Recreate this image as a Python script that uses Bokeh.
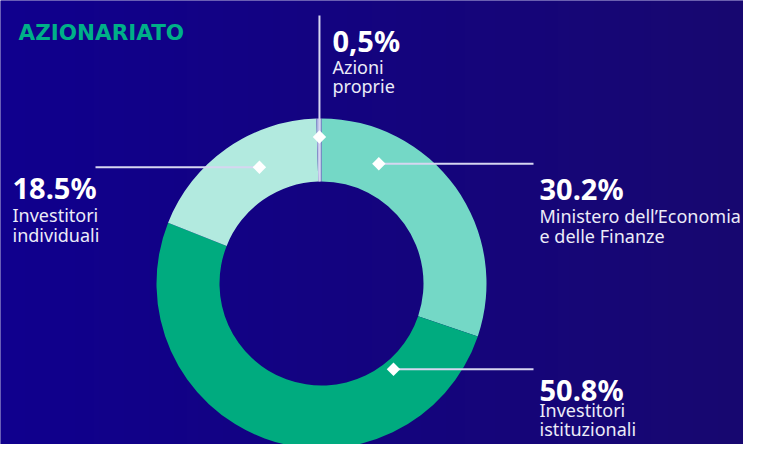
import numpy as np
from math import pi, sin, cos, radians
from bokeh.plotting import figure
from bokeh.models import Range1d, ColumnDataSource
from bokeh.embed import file_html
from bokeh.resources import INLINE
from bokeh.core.properties import value

# ---------------- data ----------------
title_text = "AZIONARIATO"
categories = ["Ministero dell’Economia e delle Finanze", "Investitori istituzionali",
              "Investitori individuali", "Azioni proprie"]
shares = [30.2, 50.8, 18.5, 0.5]
pct_labels = ["30.2%", "50.8%", "18.5%", "0,5%"]
name_lines = [["Ministero dell’Economia", "e delle Finanze"],
              ["Investitori", "istituzionali"],
              ["Investitori", "individuali"],
              ["Azioni", "proprie"]]
colors = ["#74d8c6", "#00ab7f", "#b2eadf", "#a9b0e0"]

# ---------------- layout (pixel space, y downward negated) ----------------
W, H = 743, 444
cx, cy = 321, 283
r_in, r_out = 102, 165

# marker anchor: (clockwise angle from top in degrees, radius)
anchors = [(25.6, 132.7), (140.0, 112.0), (331.9, 131.8), (359.2, 146.5)]
# leader end x (None -> vertical leader)
leader_end = [533, 533, 95, None]
# label block: x, baseline of percentage, name line offset, line step
label_pos = [(539, 188, 27.5, 20), (539, 389, 20.5, 18.5), (12, 187, 27.5, 20), (332, 40, 26, 19.5)]

p = figure(width=W, height=H, output_backend="svg", toolbar_location=None,
           x_range=Range1d(0, W), y_range=Range1d(-H, 0),
           min_border=0)
p.axis.visible = False
p.grid.visible = False
p.outline_line_color = None
p.background_fill_color = "#13008a"
p.border_fill_color = "#13008a"

# background gradient
left = np.array([16, 0, 142])
right = np.array([24, 8, 112])
t = np.linspace(0, 1, W)[None, :]
rgb = (left[:, None, None] * (1 - t) + right[:, None, None] * t).astype(np.uint32)
img = np.empty((2, W), dtype=np.uint32)
view = img.view(dtype=np.uint8).reshape((2, W, 4))
for k in range(3):
    view[:, :, k] = rgb[k]
view[:, :, 3] = 255
p.image_rgba(image=[img], x=0, y=-H, dw=W, dh=H)

# donut
fr = np.array(shares) / sum(shares)
cum = np.concatenate([[0], np.cumsum(fr)])
starts = pi / 2 - 2 * pi * cum[:-1]
ends = pi / 2 - 2 * pi * cum[1:]
src = ColumnDataSource(dict(start=starts, end=ends, color=colors, cat=categories))
p.annular_wedge(x=cx, y=-cy, inner_radius=r_in, outer_radius=r_out,
                start_angle="start", end_angle="end", direction="clock",
                fill_color="color", line_color=None, source=src)

line_col = "#d6d6f0"
mx, my = [], []
for i, (ang, rad) in enumerate(anchors):
    a = radians(ang)
    x = cx + rad * sin(a)
    y = cy - rad * cos(a)
    mx.append(x)
    my.append(-y)
    if leader_end[i] is None:
        p.segment(x0=x, y0=-15, x1=x, y1=-(cy - r_in), line_color=line_col, line_width=2)
    else:
        p.segment(x0=x, y0=-y, x1=leader_end[i], y1=-y, line_color=line_col, line_width=2)

p.scatter(x=mx, y=my, marker="square", size=9.5, angle=pi / 4,
          fill_color="white", line_color=None)

# labels
for i, (lx, ly, off, step) in enumerate(label_pos):
    p.text(x=[lx], y=[-ly], text=[pct_labels[i]], text_font=value("Noto Sans"),
           text_font_size="29px", text_font_style="bold", text_color="white",
           text_baseline="alphabetic", text_align="left")
    for j, ln in enumerate(name_lines[i]):
        p.text(x=[lx], y=[-(ly + off + step * j)], text=[ln], text_font=value("Noto Sans"),
               text_font_size="18px", text_color="#ececf8",
               text_baseline="alphabetic", text_align="left")

p.text(x=[18], y=[-32], text=[title_text], text_font=value("DejaVu Sans"),
       text_font_size="21.5px", text_font_style="bold", text_color="#00b088",
       text_baseline="alphabetic", text_align="left")

open("out.html", "w").write(file_html(p, INLINE))
